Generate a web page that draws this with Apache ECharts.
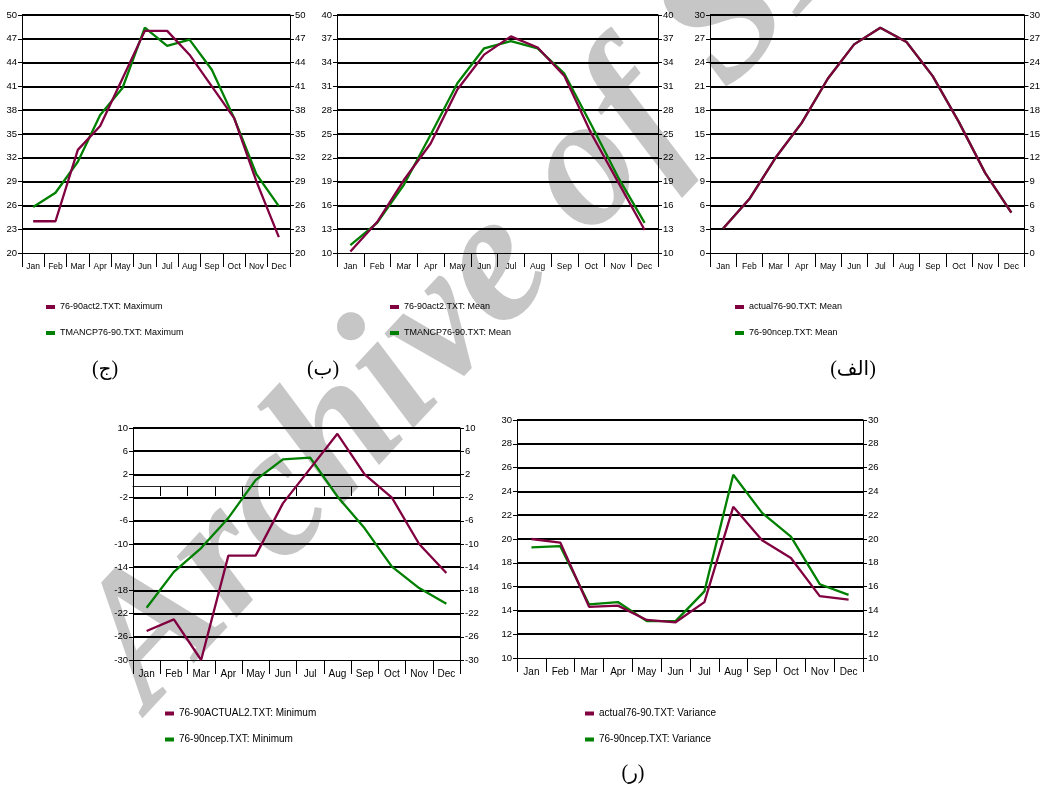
<!DOCTYPE html>
<html>
<head>
<meta charset="utf-8">
<script src="https://cdn.jsdelivr.net/npm/echarts@6/dist/echarts.min.js"></script>
<style>html,body{margin:0;padding:0;background:#fff}#c{width:1043px;height:787px}</style>
</head>
<body>
<div id="c"></div>
<script>
const months = ['Jan','Feb','Mar','Apr','May','Jun','Jul','Aug','Sep','Oct','Nov','Dec'];

// (ج) Maximum
const maxAct2 = [24, 24, 33, 36, 42, 48, 48, 45, 41, 37, 29, 22];
const maxTmancp = [25.8, 27.6, 31.5, 37.4, 40.8, 48.4, 46.1, 46.9, 43.1, 37, 29.9, 25.9];
// (ب) Mean
const meanAct2 = [10.2, 13.9, 19.2, 23.8, 30.6, 35, 37.3, 35.9, 32.3, 25.1, 19, 12.9];
const meanTmancp = [11, 13.8, 18.6, 24.9, 31.4, 35.8, 36.7, 35.8, 32.6, 26.2, 19.6, 13.8];
// (الف) Mean (the green series lies under the purple one)
const meanActual = [3.1, 6.8, 12, 16.4, 22, 26.3, 28.4, 26.6, 22.3, 16.5, 10.1, 5.1];
const meanNcep = [3.1, 6.8, 12, 16.4, 22, 26.3, 28.4, 26.6, 22.3, 16.5, 10.1, 5.1];
// Minimum
const minActual2 = [-25, -23, -30, -12, -12, -3, 3, 9, 2, -2, -10, -15];
const minNcep = [-21, -14.8, -10.7, -5.5, 1, 4.6, 4.9, -1.8, -7.3, -13.9, -17.6, -20.3];
// (ر) Variance
const varActual = [20, 19.7, 14.3, 14.4, 13.2, 13, 14.7, 22.7, 19.9, 18.4, 15.2, 14.9];
const varNcep = [19.3, 19.4, 14.5, 14.7, 13.1, 13.1, 15.6, 25.4, 22.2, 20.2, 16.2, 15.3];

const names = {
  maxA: '76-90act2.TXT: Maximum', maxN: 'TMANCP76-90.TXT: Maximum',
  meanA2: '76-90act2.TXT: Mean', meanT: 'TMANCP76-90.TXT: Mean',
  meanA: 'actual76-90.TXT: Mean', meanN: '76-90ncep.TXT: Mean',
  minA: '76-90ACTUAL2.TXT: Minimum', minN: '76-90ncep.TXT: Minimum',
  varA: 'actual76-90.TXT: Variance', varN: '76-90ncep.TXT: Variance'
};
const panelLabels = ['(ج)', '(ب)', '(الف)', '(ر)'];
const watermark = 'Archive of SID';

const PURPLE = '#800040', GREEN = '#008000';
const NARROW = "'Liberation Sans Narrow', 'Arial Narrow', 'Liberation Sans', sans-serif";

const grids = [
  {left: 22, top: 15, width: 268, height: 238},
  {left: 337, top: 15, width: 321, height: 238},
  {left: 710, top: 15, width: 317, height: 238},
  {left: 133, top: 428, width: 327, height: 232},
  {left: 517, top: 420, width: 346, height: 238}
];
const yRanges = [
  {min: 20, max: 50, interval: 3},
  {min: 10, max: 40, interval: 3},
  {min: 0, max: 30, interval: 3},
  {min: -30, max: 10, interval: 4},
  {min: 10, max: 30, interval: 2}
];
const catFont = [8.5, 8.5, 8.5, 10, 10];
const valFont = [9.5, 9.5, 9.5, 9.5, 9.5];

const xAxis = [], yAxis = [];
grids.forEach((g, i) => {
  xAxis.push({
    type: 'category', gridIndex: i, data: months, boundaryGap: true, position: 'bottom',
    axisLine: {onZero: false, lineStyle: {color: '#000', width: 1}},
    axisTick: {show: true, interval: 0, length: 14, lineStyle: {color: '#000', width: 1}},
    axisLabel: {interval: 0, margin: 9, color: '#000', fontFamily: NARROW, fontSize: catFont[i]},
    splitLine: {show: false}
  });
  const r = yRanges[i];
  yAxis.push({
    type: 'value', gridIndex: i, position: 'left', min: r.min, max: r.max, interval: r.interval,
    axisLine: {show: true, lineStyle: {color: '#000', width: 1}},
    axisTick: {show: true, length: 4, lineStyle: {color: '#000'}},
    axisLabel: {margin: 5, color: '#000', fontFamily: NARROW, fontSize: valFont[i]},
    splitLine: {show: true, showMinLine: false, lineStyle: {color: '#000', width: 2}}
  });
  yAxis.push({
    type: 'value', gridIndex: i, position: 'right', min: r.min, max: r.max, interval: r.interval,
    axisLine: {show: true, lineStyle: {color: '#000', width: 1}},
    axisTick: {show: true, length: 4, lineStyle: {color: '#000'}},
    axisLabel: {margin: 5, color: '#000', fontFamily: NARROW, fontSize: valFont[i]},
    splitLine: {show: false}
  });
});
// zero-crossing category axis for the Minimum chart
xAxis.push({
  type: 'category', gridIndex: 3, data: months, boundaryGap: true, position: 'top',
  axisLine: {onZero: true, lineStyle: {color: '#222', width: 1}},
  axisTick: {show: true, inside: true, interval: 0, length: 10, lineStyle: {color: '#000', width: 1}},
  axisLabel: {show: false}, splitLine: {show: false}
});

function line(name, data, color, gi) {
  return {
    name, type: 'line', data, xAxisIndex: gi, yAxisIndex: gi * 2,
    symbol: 'none', smooth: false, color,
    lineStyle: {color, width: 2.3}, emphasis: {disabled: true}, z: 3
  };
}
const series = [
  line(names.maxN, maxTmancp, GREEN, 0), line(names.maxA, maxAct2, PURPLE, 0),
  line(names.meanT, meanTmancp, GREEN, 1), line(names.meanA2, meanAct2, PURPLE, 1),
  line(names.meanN, meanNcep, GREEN, 2), line(names.meanA, meanActual, PURPLE, 2),
  line(names.minN, minNcep, GREEN, 3), line(names.minA, minActual2, PURPLE, 3),
  line(names.varN, varNcep, GREEN, 4), line(names.varA, varActual, PURPLE, 4)
];

function legend(left, top, data, fs, lh, gap) {
  return {
    left, top, orient: 'vertical', itemGap: gap, icon: 'rect', itemWidth: 9, itemHeight: 4,
    selectedMode: false, padding: 0,
    textStyle: {fontFamily: NARROW, fontSize: fs, lineHeight: lh, color: '#000'}, data
  };
}
const legends = [
  legend(46, 301, [names.maxA, names.maxN], 9, 12, 14),
  legend(390, 301, [names.meanA2, names.meanT], 9, 12, 14),
  legend(735, 301, [names.meanA, names.meanN], 9, 12, 14),
  legend(165, 707, [names.minA, names.minN], 10, 13, 13),
  legend(585, 707, [names.varA, names.varN], 10, 13, 13)
];

const SERIF = "'Liberation Serif', 'DejaVu Serif', 'DejaVu Sans', serif";
const labelPos = [[105, 370], [323, 370], [853, 370], [633, 774]];
const graphic = [
  {
    type: 'text', x: 182, y: 742, rotation: 47 * Math.PI / 180, z: -10, silent: true,
    style: {text: watermark, font: "italic bold 186px 'Liberation Serif', serif",
      fill: '#c6c6c6', textAlign: 'left', textVerticalAlign: 'bottom'}
  }
].concat(panelLabels.map((t, i) => ({
  type: 'text', x: labelPos[i][0], y: labelPos[i][1], z: 10, silent: true,
  style: {text: t, font: '20px ' + SERIF, fill: '#000', textAlign: 'center', textVerticalAlign: 'middle'}
})));

const chart = echarts.init(document.getElementById('c'), null, {renderer: 'canvas'});
chart.setOption({
  backgroundColor: '#fff', animation: false,
  grid: grids, xAxis, yAxis, series, legend: legends, graphic
});
</script>
</body>
</html>
